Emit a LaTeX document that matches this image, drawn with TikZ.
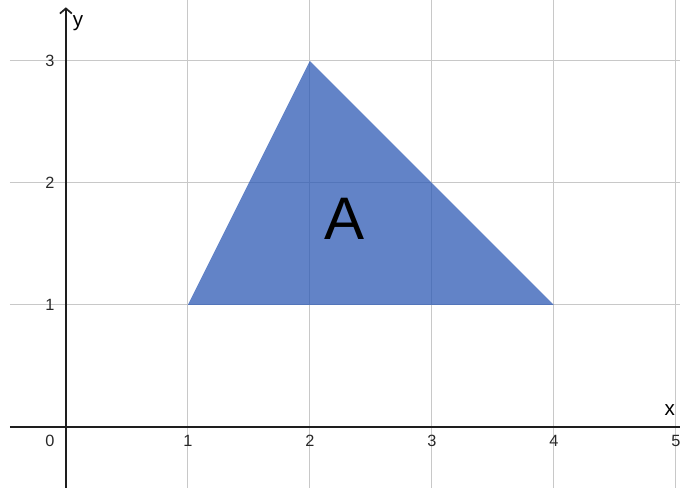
\documentclass[tikz,border=0pt]{standalone}
\usepackage{fontspec}
\setmainfont{Liberation Sans}
\usetikzlibrary{arrows.meta}

\begin{document}
\begin{tikzpicture}[
    x=2.5cm, y=2.5cm,
    gridline/.style={draw={rgb,255:red,200;green,200;blue,200}, line width=0.6pt},
    axis/.style={draw={rgb,255:red,30;green,30;blue,30}, line width=1pt},
    axislabel/.style={font=\fontsize{12}{14}\selectfont, inner sep=0pt},
    ticklabel/.style={font=\fontsize{9.5}{11}\selectfont, text={rgb,255:red,40;green,40;blue,40}, inner sep=0pt},
    region/.style={fill={rgb,255:red,45;green,90;blue,180}, fill opacity=0.75}
]
\useasboundingbox (-0.54,-0.5) rectangle (5.034,3.5);
% grid
\foreach \i in {1,...,5}
    \draw[gridline] (\i,-0.5) -- (\i,3.5);
\foreach \j in {1,2,3}
    \draw[gridline] (-0.46,\j) -- (5.034,\j);
% triangle A
\coordinate (p) at (1,1);
\coordinate (q) at (4,1);
\coordinate (r) at (2,3);
\fill[region] (p) -- (q) -- (r) -- cycle;
\node[font=\fontsize{35}{40}\selectfont, inner sep=0pt] (lblA) at (2.28,1.71) {A};
% axes
\coordinate (xstart) at (-0.46,0);
\coordinate (xend) at (5.034,0);
\coordinate (ystart) at (0,-0.5);
\coordinate (yend) at (0,3.44);
\draw[axis] (xstart) -- (xend);
\draw[axis, -{Straight Barb[length=3pt,width=7pt]}] (ystart) -- (yend);
\node[axislabel] (ylbl) at (0.1,3.31) {y};
\node[axislabel] (xlbl) at (4.95,0.14) {x};
% tick labels
\node[ticklabel] (t0) at (-0.13,-0.115) {0};
\foreach \i in {1,...,5}
    \node[ticklabel] (tx\i) at (\i,-0.115) {\i};
\foreach \j in {1,2,3}
    \node[ticklabel] (ty\j) at (-0.13,\j) {\j};
\end{tikzpicture}
\end{document}
